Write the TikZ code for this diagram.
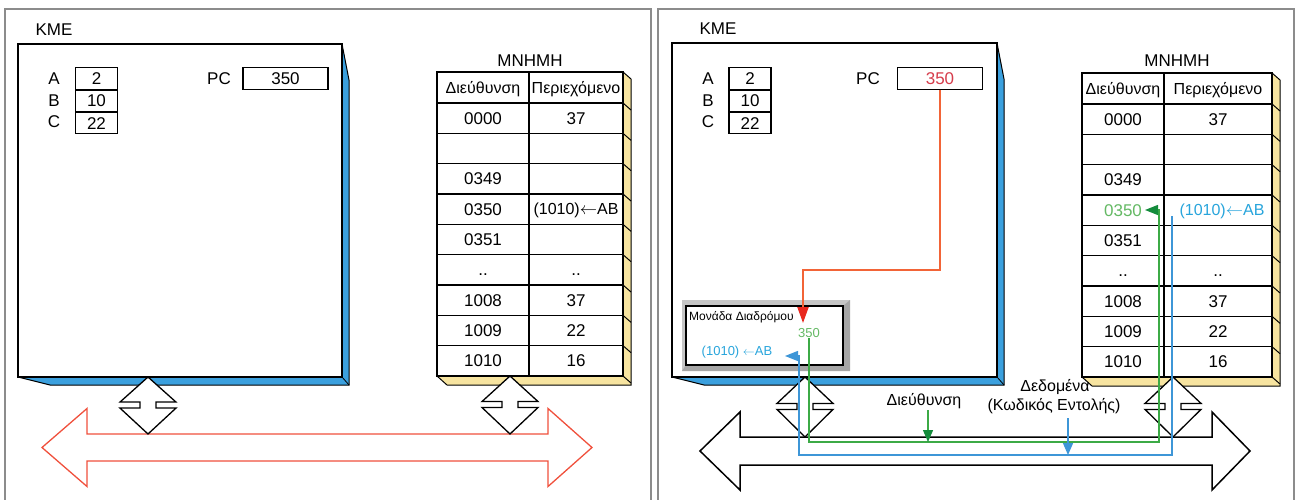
\documentclass[tikz,border=0pt]{standalone}
\usepackage{fontspec}
\setmainfont{Liberation Sans}
\usetikzlibrary{arrows.meta}

\definecolor{cpublue}{RGB}{59,160,222}
\definecolor{memyellow}{RGB}{247,228,160}
\definecolor{panelgray}{RGB}{140,140,140}
\definecolor{busred}{RGB}{240,80,60}
\definecolor{pcred}{RGB}{214,60,75}
\definecolor{lineorange}{RGB}{242,100,55}
\definecolor{headred}{RGB}{232,40,30}
\definecolor{linegreen}{RGB}{60,170,70}
\definecolor{textgreen}{RGB}{100,185,100}
\definecolor{headgreen}{RGB}{20,140,60}
\definecolor{lineblue}{RGB}{62,150,215}
\definecolor{textblue}{RGB}{40,165,220}

% CPU block: front face (#1,#2)-(#3,#4) with a blue extruded edge
\newcommand{\drawcpu}[4]{%
  \fill[cpublue] (#3,#2) -- (#3+7,#2+36) -- (#3+7,#4+8) -- (#1+32,#4+8) -- (#1,#4) -- cycle;
  \draw[line width=1pt] (#3,#2) -- (#3+7,#2+36) -- (#3+7,#4+8) -- (#1+32,#4+8) -- (#1,#4);
  \draw[line width=0.8pt] (#3,#4) -- (#3+7,#4+8);
  \draw[line width=1.3pt, fill=white] (#1,#2) rectangle (#3,#4);
}

% memory table: left, divider, right, top, header bottom, bottom
\newcommand{\drawmem}[6]{%
  \fill[memyellow] (#3,#4) -- (#3+8,#4+7) -- (#3+8,#6+9) -- (#1+10,#6+9) -- (#1,#6) -- cycle;
  \draw[line width=1pt] (#3,#4) -- (#3+8,#4+7) -- (#3+8,#6+9) -- (#1+10,#6+9) -- (#1,#6);
  \foreach \k in {0,...,9}{\draw[line width=1pt] (#3,{#5+\k*(#6-#5)/9}) -- ++(8,7);}
  \draw[line width=1.3pt, fill=white] (#1,#4) rectangle (#3,#6);
  \draw[line width=1.3pt] (#2,#4) -- (#2,#6);
  \foreach \k in {0,...,8}{\draw[line width=1.3pt] (#1,{#5+\k*(#6-#5)/9}) -- (#3,{#5+\k*(#6-#5)/9});}
}

% two-way link between a unit and the bus
\newcommand{\drawlink}[3]{%
  \pgfmathsetmacro\lkb{#2+0.44*(#3-#2)}
  \draw[line width=1.3pt, fill=white] (#1,#2) -- (#1+28,\lkb) -- (#1+8,\lkb) -- (#1+8,\lkb+6)
    -- (#1+28,\lkb+6) -- (#1,#3) -- (#1-28,\lkb+6) -- (#1-8,\lkb+6) -- (#1-8,\lkb)
    -- (#1-28,\lkb) -- cycle;
}

% wide double-headed bus arrow
\newcommand{\drawbus}[7]{%
  \draw[#1] (#2,#6) -- (#3,#6-39) -- (#3,#6-#7) -- (#4,#6-#7) -- (#4,#6-39) -- (#5,#6)
    -- (#4,#6+39) -- (#4,#6+#7) -- (#3,#6+#7) -- (#3,#6+39) -- cycle;
}

% thin left arrow used inside the cells
\newcommand{\larr}{\ensuremath{\leftarrow}}

\tikzset{
  panel/.style={draw=panelgray, line width=1.6pt},
  big/.style={font=\fontsize{17}{20}\selectfont, inner sep=0pt, text height=12.2pt, text depth=0pt},
  head/.style={font=\fontsize{16}{19}\selectfont, inner sep=0pt, text height=11.5pt, text depth=0pt},
  regbox/.style={draw, line width=1.1pt, minimum width=42pt, minimum height=21.3pt, inner sep=0pt,
    font=\fontsize{17}{20}\selectfont, text height=12.2pt, text depth=0pt},
  smalltxt/.style={font=\fontsize{12}{14}\selectfont, inner sep=0pt, text height=8.6pt, text depth=0pt},
  midtxt/.style={font=\fontsize{13}{15}\selectfont, inner sep=0pt, text height=9.3pt, text depth=0pt},
  redbus/.style={draw=busred, line width=1.3pt, fill=white},
  blackbus/.style={draw=black, line width=1.5pt, fill=white},
  greenline/.style={draw=linegreen, line width=1.4pt},
  blueline/.style={draw=lineblue, line width=1.4pt},
}

\begin{document}
\begin{tikzpicture}[x=1pt, y=-1pt, line join=miter]
\useasboundingbox (0,0) rectangle (1298,500);
\clip (0,0) rectangle (1298,500);

% ---------- panel frames ----------
\draw[panel] (5,9) rectangle (651,520);
\draw[panel] (658,9) rectangle (1294,520);

% =========================================================
% Left panel
% =========================================================
\node[big] (Lkme) at (54,29) {ΚΜΕ};
\drawcpu{18}{44}{342}{377}

\node[big] (LlA) at (54,78.5) {A};
\node[big] (LlB) at (54,100) {B};
\node[big] (LlC) at (54,121.5) {C};
\node[regbox] (LrA) at (96.5,78.5) {2};
\node[regbox, anchor=north] (LrB) at (LrA.south) {10};
\node[regbox, anchor=north] (LrC) at (LrB.south) {22};
\node[big] (Lpc) at (219,78.5) {PC};
\node[regbox, minimum width=85pt] (Lpcv) at (285.5,78.5) {350};

\node[big] (Lmem) at (530,60) {ΜΝΗΜΗ};
\drawmem{437}{529}{623}{72}{103}{376}
\node[head] (Lh1) at (483,87.5) {Διεύθυνση};
\node[head] (Lh2) at (576,87.5) {Περιεχόμενο};
\foreach \k/\a/\c in {1/0000/37, 2/{}/{}, 3/0349/{}, 5/0351/{},
                      6/{..}/{..}, 7/1008/37, 8/1009/22, 9/1010/16}{
  \node[big] (La\k) at (483,{103+(\k-0.5)*30.333}) {\a};
  \node[big] (Lc\k) at (576,{103+(\k-0.5)*30.333}) {\c};
}
\node[big] (La4) at (483,209.2) {0350};
\node[head] (Lc4) at (576,209.2) {(1010)\larr AB};

\drawbus{redbus}{42}{87}{548}{592}{447.5}{13.5}
\drawlink{148}{377}{434}
\drawlink{510}{376}{434}

% =========================================================
% Right panel
% =========================================================
\node[big] (Rkme) at (718,28) {ΚΜΕ};
\drawcpu{672}{43}{997}{377}

\node[big] (RlA) at (708,78.5) {A};
\node[big] (RlB) at (708,100) {B};
\node[big] (RlC) at (708,121.5) {C};
\node[regbox] (RrA) at (750,78.5) {2};
\node[regbox, anchor=north] (RrB) at (RrA.south) {10};
\node[regbox, anchor=north] (RrC) at (RrB.south) {22};
\node[big] (Rpc) at (868,78.5) {PC};
\node[regbox, minimum width=85pt, text=pcred] (Rpcv) at (940,78.5) {350};

% bus interface unit with a bevelled grey frame
\fill[gray!45] (682,300) rectangle (850,371);
\fill[gray!70] (843,306) -- (850,300) -- (850,371) -- (682,371) -- (686,365) -- (843,365) -- cycle;
\node[draw, line width=1.3pt, fill=white, minimum width=157pt, minimum height=59pt, inner sep=0pt]
  (mdbox) at (764.5,335.5) {};
\node[smalltxt, anchor=west] (mdtitle) at (689,316) {Μονάδα Διαδρόμου};
\node[midtxt, text=textgreen] (md350) at (809,333) {350};
\node[midtxt, text=textblue] (mddata) at (737,351) {(1010) \larr AB};

\node[big] (Rmem) at (1177,60) {ΜΝΗΜΗ};
\drawmem{1082}{1164}{1272}{73}{104}{377}
\node[head] (Rh1) at (1123,88.5) {Διεύθυνση};
\node[head] (Rh2) at (1218,88.5) {Περιεχόμενο};
\foreach \k/\a/\c in {1/0000/37, 2/{}/{}, 3/0349/{}, 5/0351/{},
                      6/{..}/{..}, 7/1008/37, 8/1009/22, 9/1010/16}{
  \node[big] (Ra\k) at (1123,{104+(\k-0.5)*30.333}) {\a};
  \node[big] (Rc\k) at (1218,{104+(\k-0.5)*30.333}) {\c};
}
\node[big, text=textgreen] (Ra4) at (1123,210.2) {0350};
\node[head, text=textblue] (Rc4) at (1222,210.2) {(1010)\larr AB};

\drawbus{blackbus}{700}{740}{1212}{1250}{451}{14}
\drawlink{805}{377}{437}
\drawlink{1173}{377}{437}

\node[head] (addr) at (924,400) {Διεύθυνση};
\node[head] (data1) at (1055,386) {Δεδομένα};
\node[head] (data2) at (1054,405) {(Κωδικός Εντολής)};

% route of the address from PC to the bus unit
\coordinate (redturn) at (803,270);
\coordinate (redtip) at (803,323);
\draw[draw=lineorange, line width=2pt, -{Triangle[length=16pt,width=11pt,color=headred]}]
  (Rpcv.south) |- (redturn) -- (redtip);

% address over the bus to memory cell 0350
\coordinate (gA) at (809,442);
\coordinate (gB) at (1159,442);
\coordinate (gC) at (1159,210);
\coordinate (gtip) at (1145,210);
\draw[greenline, -{Triangle[length=13pt,width=10pt,color=headgreen]}]
  (md350.south) -- (gA) -- (gB) -- (gC) -- (gtip);

% instruction code back from memory to the bus unit
\coordinate (bsrc) at (1172,216);
\coordinate (bA) at (1172,455);
\coordinate (bB) at (799,455);
\coordinate (bC) at (799,356);
\coordinate (btip) at (785,356);
\draw[blueline, -{Triangle[length=13pt,width=10pt,color=lineblue]}]
  (bsrc) -- (bA) -- (bB) -- (bC) -- (btip);

% pointers from the labels to the lines
\coordinate (gaTop) at (928,410);
\draw[greenline, -{Triangle[length=12pt,width=10pt,color=headgreen]}] (gaTop) -- (gaTop |- gA);
\coordinate (bdTop) at (1068,418);
\draw[blueline, -{Triangle[length=12pt,width=10pt,color=lineblue]}] (bdTop) -- (bdTop |- bA);

\end{tikzpicture}
\end{document}
